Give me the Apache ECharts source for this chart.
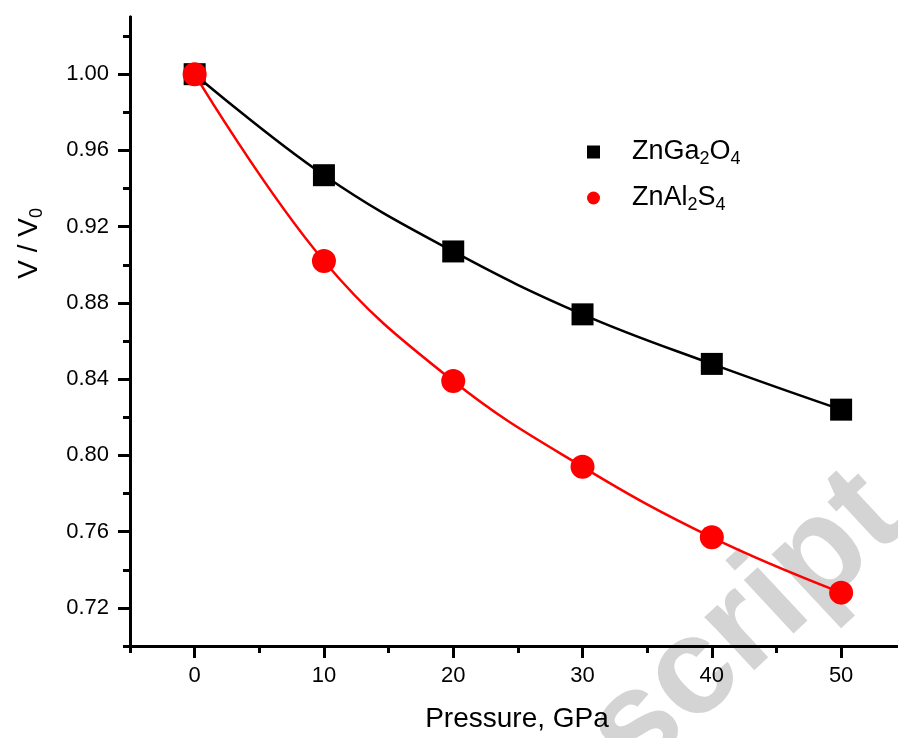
<!DOCTYPE html>
<html>
<head>
<meta charset="utf-8">
<script src="https://cdn.jsdelivr.net/npm/echarts@6/dist/echarts.min.js"></script>
<style>html,body{margin:0;padding:0;background:#fff;}#c{width:898px;height:738px;}</style>
</head>
<body>
<div id="c"></div>
<script>
// ---- data ----
var pressure = [0, 10, 20, 30, 40, 50];
var znGa2O4 = [1.000, 0.947, 0.907, 0.874, 0.848, 0.824];
var znAl2S4 = [1.000, 0.902, 0.839, 0.794, 0.757, 0.728];
var xLabels = [0, 10, 20, 30, 40, 50];
var xMinor = [-5, 5, 15, 25, 35, 45];
var yLabels = [0.72, 0.76, 0.80, 0.84, 0.88, 0.92, 0.96, 1.00];
var yMinor = [0.70, 0.74, 0.78, 0.82, 0.86, 0.90, 0.94, 0.98, 1.02];

var FONT = 'Liberation Sans';
function pairs(xs, ys){ return xs.map(function(x,i){ return [x, ys[i]]; }); }

var chart = echarts.init(document.getElementById('c'), null, {renderer:'canvas'});
var axisLine = {show:true, onZero:false, lineStyle:{color:'#000', width:3}};
var grid = {left:130, right:0, top:17, bottom:91, containLabel:false};

var option = {
  backgroundColor:'#fff',
  animation:false,
  textStyle:{fontFamily:FONT},
  grid: grid,
  xAxis:[{
    type:'value', min:-5, max:54.4,
    axisLine: axisLine,
    axisTick:{show:true, customValues:xLabels, length:12, lineStyle:{color:'#000', width:3}},
    axisLabel:{show:true, customValues:xLabels, margin:19, fontSize:22, color:'#000', fontFamily:FONT},
    splitLine:{show:false},
    name:'Pressure, GPa', nameLocation:'middle', nameGap:59,
    nameTextStyle:{fontSize:28, color:'#000', fontFamily:FONT, padding:[0,0,0,6]}
  },{
    type:'value', min:-5, max:54.4, position:'bottom',
    axisLine: axisLine,
    axisTick:{show:true, customValues:xMinor, length:7, lineStyle:{color:'#000', width:3}},
    axisLabel:{show:false},
    splitLine:{show:false}
  }],
  yAxis:[{
    type:'value', min:0.70, max:1.03,
    axisLine: axisLine,
    axisTick:{show:true, customValues:yLabels, length:12, lineStyle:{color:'#000', width:3}},
    axisLabel:{show:true, customValues:yLabels, margin:21, fontSize:22, color:'#000', fontFamily:FONT,
      formatter:function(v){ return v.toFixed(2); }},
    splitLine:{show:false}
  },{
    type:'value', min:0.70, max:1.03, position:'left',
    axisLine: axisLine,
    axisTick:{show:true, customValues:yMinor, length:7, lineStyle:{color:'#000', width:3}},
    axisLabel:{show:false},
    splitLine:{show:false}
  }],
  legend:{
    orient:'vertical', left:582, top:131,
    itemWidth:13, itemHeight:13, itemGap:14,
    data:[{name:'ZnGa2O4', icon:'rect'},{name:'ZnAl2S4', icon:'circle'}],
    formatter:function(n){
      if(n==='ZnGa2O4') return '{a|ZnGa}{b|2}{a|O}{b|4}';
      return '{a|ZnAl}{b|2}{a|S}{b|4}';
    },
    textStyle:{
      padding:[0,0,0,27], color:'#000', fontFamily:FONT,
      rich:{
        a:{fontSize:27, lineHeight:30, color:'#000', fontFamily:FONT, verticalAlign:'middle'},
        b:{fontSize:18, lineHeight:18, color:'#000', fontFamily:FONT, padding:[14,0,0,0], verticalAlign:'middle'}
      }
    }
  },
  graphic:[{
    type:'text', left:4, top:208, rotation:Math.PI/2, z:10,
    style:{
      text:'{a|V / V}{b|0}',
      fill:'#000',
      rich:{
        a:{fontSize:28, fontFamily:FONT, fill:'#000', height:34, lineHeight:34},
        b:{fontSize:18, fontFamily:FONT, fill:'#000', padding:[16,0,0,0], height:34, lineHeight:34}
      }
    }
  },{
    type:'text', x:656, y:804, rotation:43*Math.PI/180, z:-10, silent:true,
    style:{text:'script', font:'bold 138px "Liberation Sans"', fill:'#d4d4d4', textAlign:'left', textVerticalAlign:'bottom'}
  }],
  series:[{
    name:'ZnGa2O4', type:'line', smooth:0.4, xAxisIndex:0, yAxisIndex:0,
    data: pairs(pressure, znGa2O4),
    symbol:'rect', symbolSize:22,
    itemStyle:{color:'#000'},
    lineStyle:{color:'#000', width:2.5},
    z:3
  },{
    name:'ZnAl2S4', type:'line', smooth:0.4, xAxisIndex:0, yAxisIndex:0,
    data: pairs(pressure, znAl2S4),
    symbol:'circle', symbolSize:24,
    itemStyle:{color:'#ff0000'},
    lineStyle:{color:'#ff0000', width:2.5},
    z:4
  }]
};
chart.setOption(option);
</script>
</body>
</html>
